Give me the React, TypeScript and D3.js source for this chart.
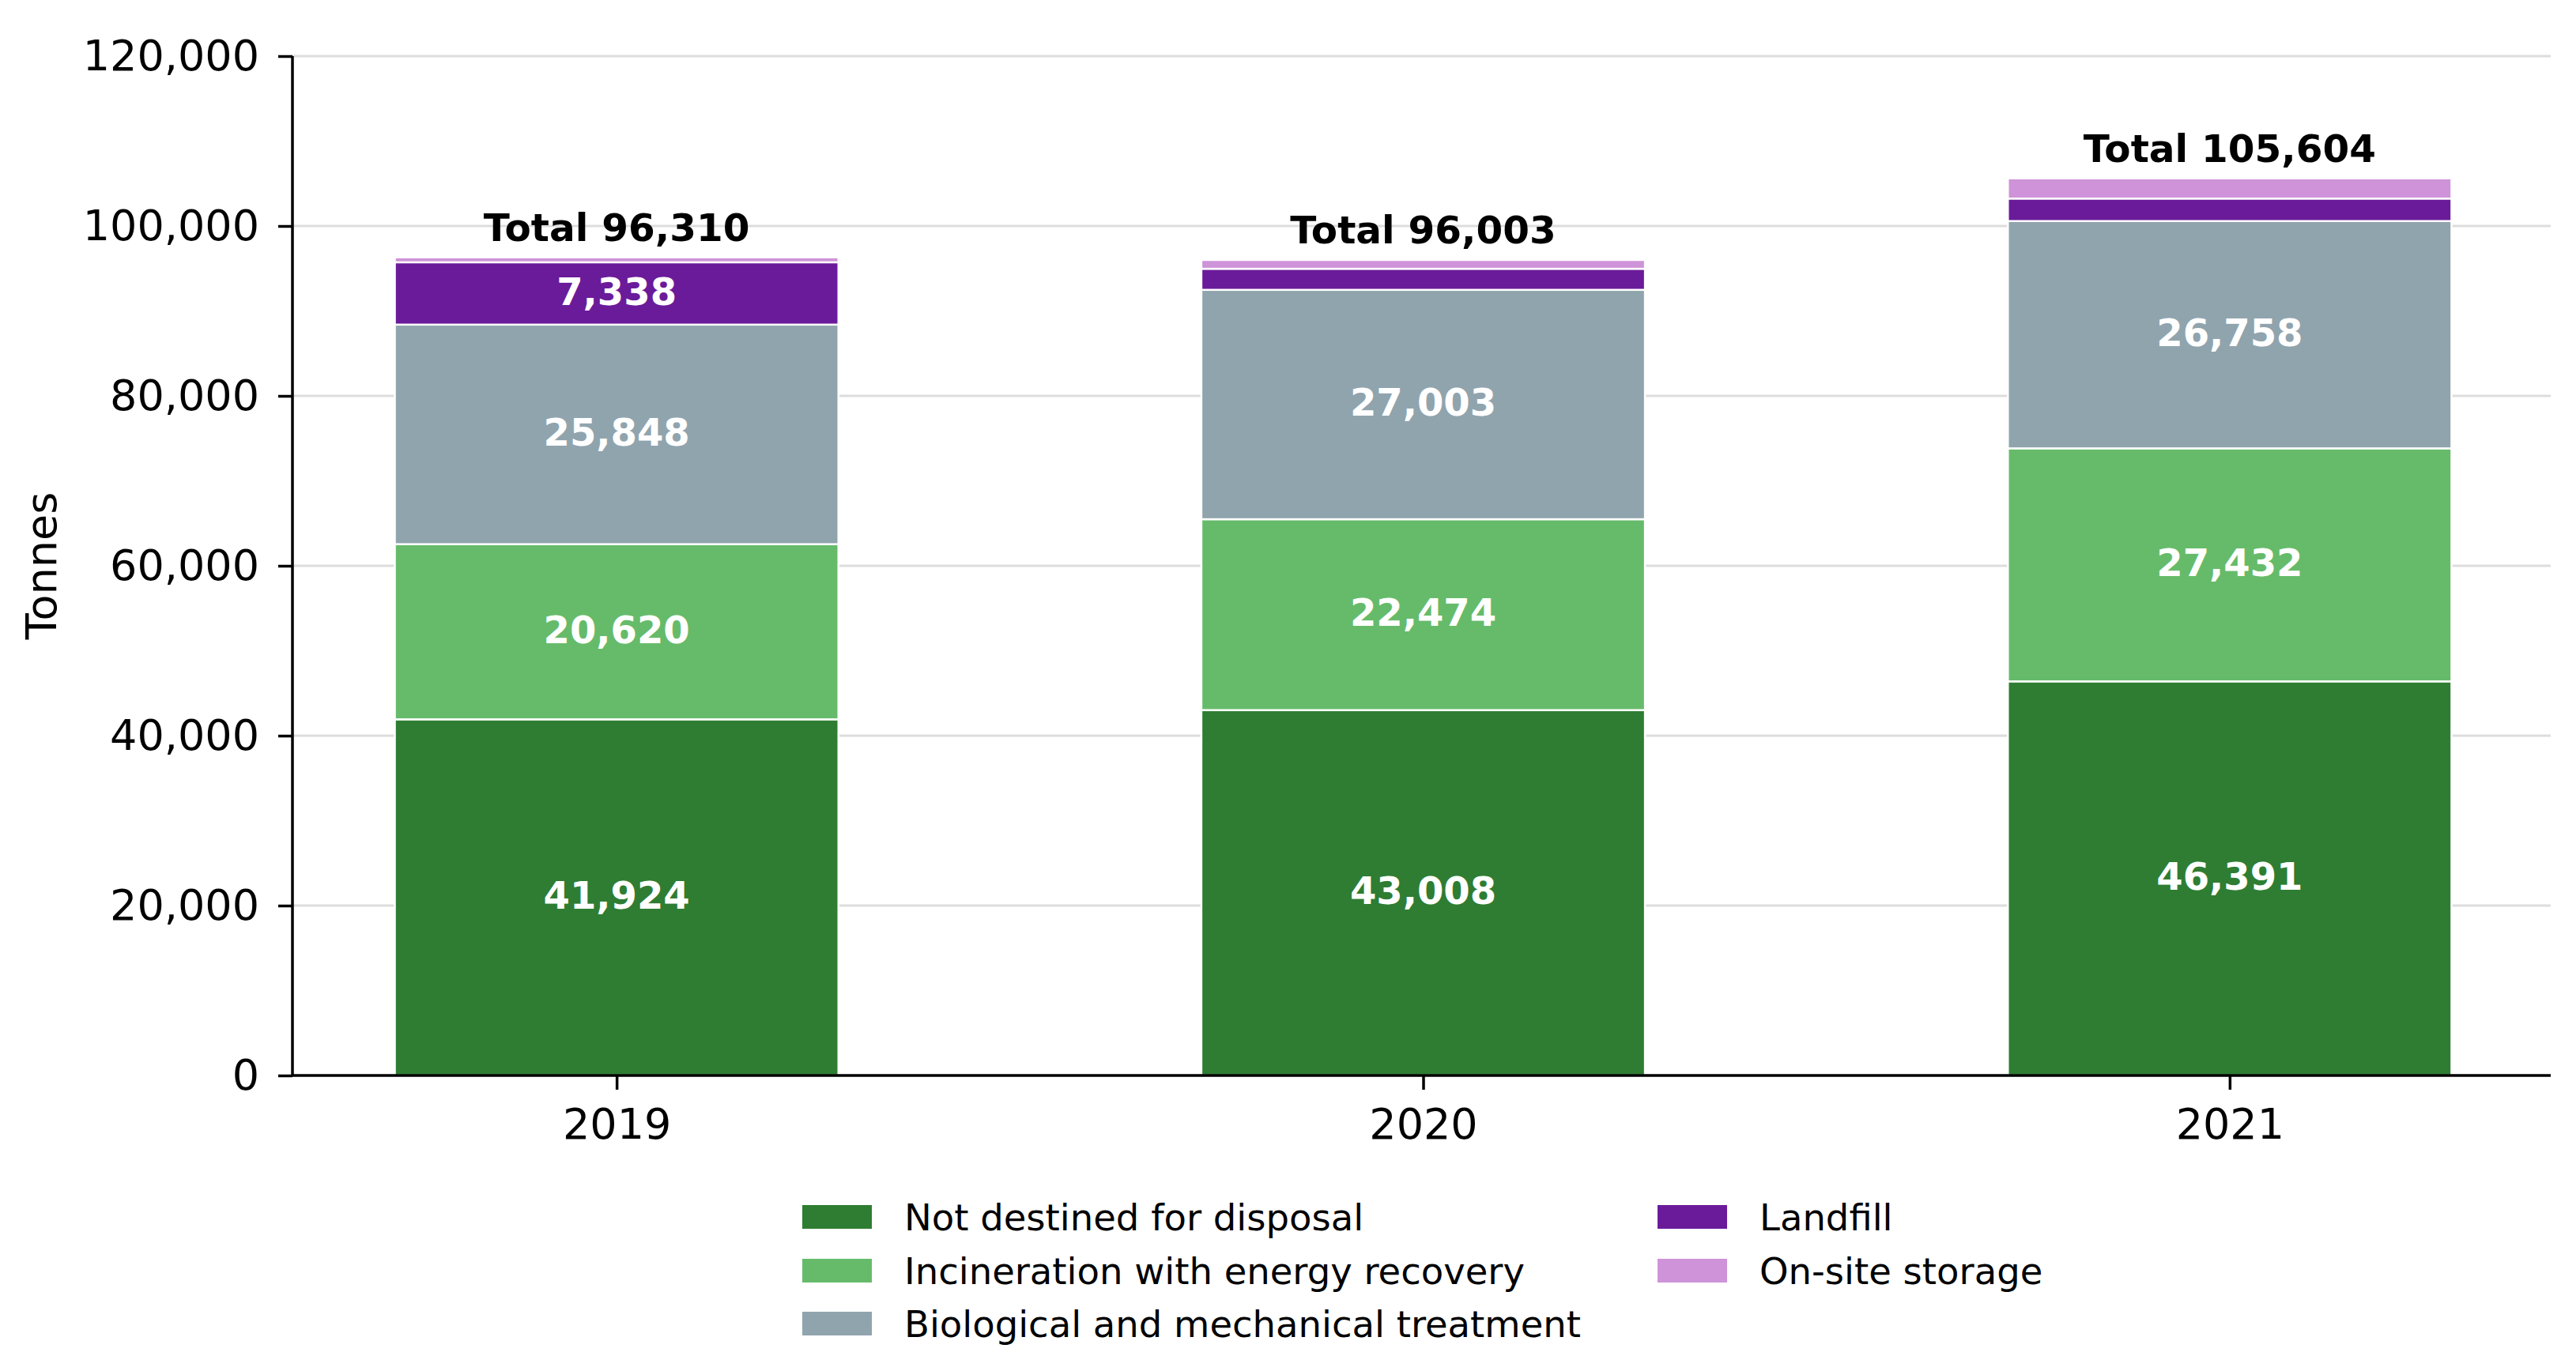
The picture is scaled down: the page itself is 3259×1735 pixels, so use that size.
import React, { useEffect, useRef } from 'react';
import * as d3 from 'd3';

// waste by disposal route, tonnes
const years = ['2019', '2020', '2021'];
const categories = [
  'Not destined for disposal',
  'Incineration with energy recovery',
  'Biological and mechanical treatment',
  'Landfill',
  'On-site storage',
];
const colors = ['#2e7d32', '#66bb6a', '#90a4ae', '#6a1b9a', '#ce93d8'];

const notDestined = [41924, 43008, 46391];
const incineration = [20620, 22474, 27432];
const biological = [25848, 27003, 26758];
const landfill = [7338, 2480, 2650];
const onSite = [580, 1038, 2373];

const yTicks = [0, 20000, 40000, 60000, 80000, 100000, 120000];

const W = 3259;
const H = 1735;
const FONT = '"DejaVu Sans", Verdana, sans-serif';

const App: React.FC = () => {
  const svgRef = useRef<SVGSVGElement>(null);

  useEffect(() => {
    document.body.style.margin = '0';
    const svg = d3.select(svgRef.current);
    svg.selectAll('*').remove();

    const left = 370, right = 3227, top = 71, bottom = 1361;
    const series = [notDestined, incineration, biological, landfill, onSite];

    const x = d3.scaleLinear().domain([-0.4, 2.4]).range([left + 2, right + 2]);
    const y = d3.scaleLinear().domain([0, 120000]).range([bottom, top]);
    const barW = x(0.55) - x(0);
    const fmt = d3.format(',');

    // grid
    svg.append('g')
      .selectAll('line')
      .data(yTicks.slice(1))
      .join('line')
      .attr('x1', left).attr('x2', right)
      .attr('y1', d => y(d)).attr('y2', d => y(d))
      .attr('stroke', '#dddddd')
      .attr('stroke-width', 3);

    // stacked bars
    years.forEach((yr, i) => {
      let base = 0;
      series.forEach((s, k) => {
        const v = s[i];
        const y0 = y(base), y1 = y(base + v);
        svg.append('rect')
          .attr('x', x(i) - barW / 2)
          .attr('y', y1)
          .attr('width', barW)
          .attr('height', y0 - y1)
          .attr('fill', colors[k])
          .attr('stroke', 'white')
          .attr('stroke-width', 2.5);
        if (v > 4000) {
          svg.append('text')
            .attr('x', x(i))
            .attr('y', (y0 + y1) / 2)
            .attr('dy', '0.3em')
            .attr('text-anchor', 'middle')
            .attr('fill', 'white')
            .attr('font-weight', 'bold')
            .attr('font-size', 48)
            .attr('font-family', FONT)
            .text(fmt(v));
        }
        base += v;
      });
      svg.append('text')
        .attr('x', x(i))
        .attr('y', y(base) - 21)
        .attr('text-anchor', 'middle')
        .attr('fill', 'black')
        .attr('font-weight', 'bold')
        .attr('font-size', 48.5)
        .attr('font-family', FONT)
        .text(`Total ${fmt(base)}`);
    });

    // y axis
    const yAxis = svg.append('g')
      .attr('transform', `translate(${left},0)`)
      .call(d3.axisLeft(y).tickValues(yTicks).tickFormat(d => fmt(d as number)).tickSize(18).tickPadding(24));
    yAxis.select('.domain').attr('stroke', 'black').attr('stroke-width', 3.5).attr('d', `M0,${top}V${bottom}`);
    yAxis.selectAll('.tick line').attr('stroke', 'black').attr('stroke-width', 3.5);
    yAxis.selectAll('.tick text').attr('font-size', 54).attr('font-family', FONT).attr('fill', 'black');

    // x axis
    const xAxis = svg.append('g')
      .attr('transform', `translate(0,${bottom})`)
      .call(d3.axisBottom(x).tickValues([0, 1, 2]).tickFormat(d => years[d as number]).tickSize(18).tickPadding(24));
    xAxis.select('.domain').attr('stroke', 'black').attr('stroke-width', 3.5).attr('d', `M${left},0H${right}`);
    xAxis.selectAll('.tick line').attr('stroke', 'black').attr('stroke-width', 3.5);
    xAxis.selectAll('.tick text').attr('font-size', 54).attr('font-family', FONT).attr('fill', 'black');

    // y label
    svg.append('text')
      .attr('transform', `translate(52,${(top + bottom) / 2}) rotate(-90)`)
      .attr('dy', '0.36em')
      .attr('text-anchor', 'middle')
      .attr('font-size', 54)
      .attr('font-family', FONT)
      .text('Tonnes');

    // legend, two columns filled top-down
    const colX = [1014, 2096];
    const rowY = [1540, 1608, 1675];
    categories.forEach((c, k) => {
      const col = k < 3 ? 0 : 1;
      const row = k < 3 ? k : k - 3;
      const g = svg.append('g').attr('transform', `translate(${colX[col]},${rowY[row]})`);
      g.append('rect')
        .attr('x', 0).attr('y', -16)
        .attr('width', 90).attr('height', 32)
        .attr('fill', colors[k])
        .attr('stroke', 'white')
        .attr('stroke-width', 2);
      g.append('text')
        .attr('x', 130)
        .attr('dy', '0.36em')
        .attr('font-size', 46.5)
        .attr('font-family', FONT)
        .attr('fill', 'black')
        .text(c);
    });
  }, []);

  return <svg ref={svgRef} width={W} height={H} style={{ display: 'block', background: 'white' }} />;
};

export default App;
